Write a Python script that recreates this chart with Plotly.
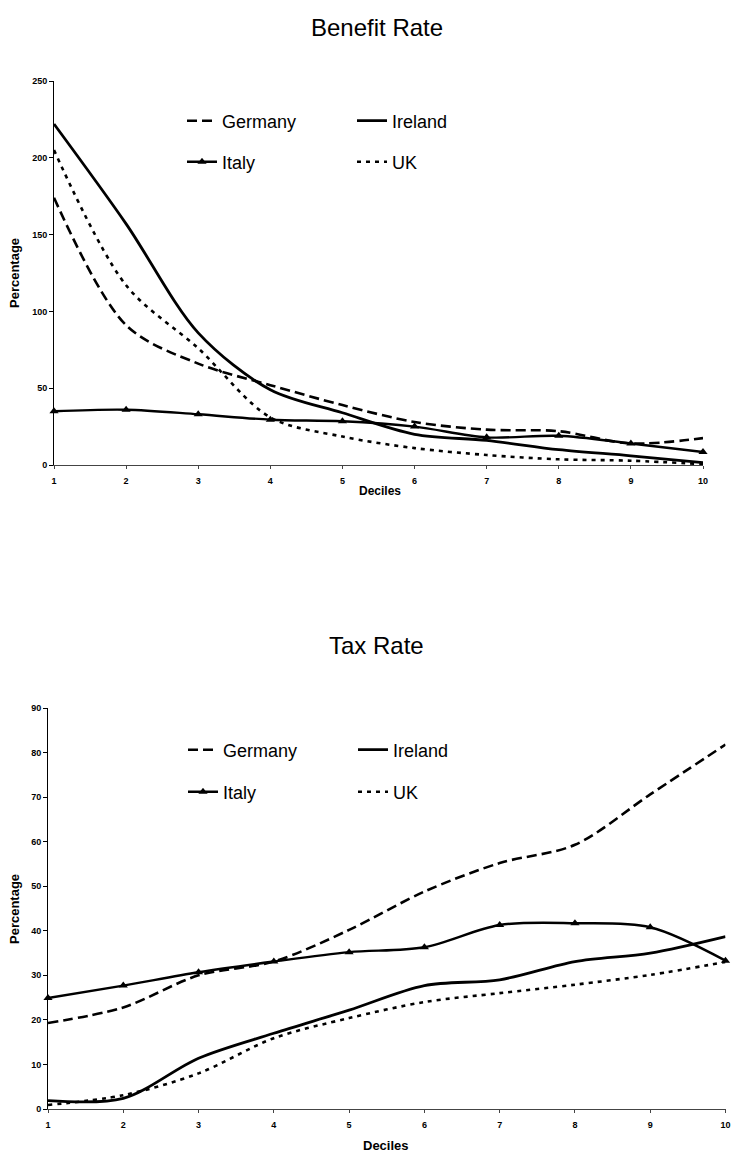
import plotly.graph_objects as go

# ---------------- data ----------------
deciles = [1, 2, 3, 4, 5, 6, 7, 8, 9, 10]
series_names = ["Germany", "Ireland", "Italy", "UK"]

benefit_germany = [174, 91, 66, 52, 39, 28, 23, 22, 14, 17.5]
benefit_ireland = [222, 157, 86, 49, 34, 20, 16, 10, 6, 1.5]
benefit_italy = [35, 36, 33, 29.5, 28.5, 25, 18, 19, 14, 8.5]
benefit_uk = [205, 117, 76, 31, 18.5, 11, 6.5, 3.7, 2.8, 0.5]

tax_germany = [19.3, 22.8, 30, 33.1, 40.2, 48.8, 55.2, 59.3, 70.6, 81.8]
tax_ireland = [1.9, 2.4, 11.4, 17, 22.2, 27.7, 29, 33.1, 35, 38.7]
tax_italy = [24.9, 27.7, 30.7, 33.1, 35.2, 36.3, 41.3, 41.7, 40.8, 33.3]
tax_uk = [0.9, 3.1, 8, 15.9, 20.4, 24, 26, 27.9, 30.1, 33]

benefit_ticks = [0, 50, 100, 150, 200, 250]
tax_ticks = [0, 10, 20, 30, 40, 50, 60, 70, 80, 90]

# ---------------- styles ----------------
W, H = 731, 1155
FONT = "Liberation Sans, Arial, sans-serif"
styles = {
    "Germany": dict(line=dict(color="black", width=2.6, dash="10px,5px"), mode="lines"),
    "Ireland": dict(line=dict(color="black", width=2.8), mode="lines"),
    "Italy": dict(line=dict(color="black", width=2.4), mode="lines+markers",
                  marker=dict(symbol="triangle-up", size=8, color="black")),
    "UK": dict(line=dict(color="black", width=2.6, dash="4px,5px"), mode="lines"),
}

fig = go.Figure()

def add_series(values, name, xaxis, yaxis, legend):
    st = styles[name]
    fig.add_trace(go.Scatter(
        x=deciles, y=values, name=name, xaxis=xaxis, yaxis=yaxis,
        legend=legend, line_shape="spline", line_smoothing=0.9,
        cliponaxis=False, hoverinfo="skip", **st))

top = [benefit_germany, benefit_ireland, benefit_italy, benefit_uk]
bot = [tax_germany, tax_ireland, tax_italy, tax_uk]
top_leg = ["legend", "legend", "legend2", "legend2"]
bot_leg = ["legend3", "legend3", "legend4", "legend4"]
for vals, name, lg in zip(top, series_names, top_leg):
    add_series(vals, name, "x", "y", lg)
for vals, name, lg in zip(bot, series_names, bot_leg):
    add_series(vals, name, "x2", "y2", lg)

def px_x(p):
    return p / W

def px_y(p):
    return 1 - p / H

tickfont = dict(family=FONT, size=9, color="black", weight="bold")

def xaxis_cfg(dom, anchor):
    return dict(domain=dom, anchor=anchor, range=[1, 10], tickvals=deciles,
                showline=True, linecolor="#444", linewidth=1, ticks="outside",
                ticklen=3, tickcolor="#444", showgrid=False, zeroline=False,
                tickfont=tickfont, fixedrange=True, ticklabeloverflow="allow",
                ticklabelstandoff=4)

def yaxis_cfg(dom, anchor, rng, ticks):
    return dict(domain=dom, anchor=anchor, range=rng, tickvals=ticks,
                showline=True, linecolor="black", linewidth=1, ticks="outside",
                ticklen=4, tickcolor="black", showgrid=False, zeroline=False,
                tickfont=tickfont, fixedrange=True, ticklabeloverflow="allow")

top_x = [px_x(54), px_x(703)]
top_y = [px_y(465), px_y(81)]
bot_x = [px_x(48), px_x(725.5)]
bot_y = [px_y(1109), px_y(708)]

legfont = dict(family=FONT, size=18, color="black")

def legend_cfg(x, y):
    return dict(orientation="h", x=x, y=y, xanchor="left", yanchor="middle",
                bgcolor="rgba(0,0,0,0)", font=legfont, entrywidth=125,
                entrywidthmode="pixels", itemclick=False, itemdoubleclick=False)

fig.update_layout(
    width=W, height=H,
    margin=dict(l=0, r=0, t=0, b=0, autoexpand=False),
    paper_bgcolor="white", plot_bgcolor="white",
    font=dict(family=FONT, color="black"),
    xaxis=xaxis_cfg(top_x, "y"),
    yaxis=yaxis_cfg(top_y, "x", [0, 250], benefit_ticks),
    xaxis2=xaxis_cfg(bot_x, "y2"),
    yaxis2=yaxis_cfg(bot_y, "x2", [0, 90], tax_ticks),
    legend=legend_cfg(px_x(182), px_y(121)),
    legend2=legend_cfg(px_x(182), px_y(162)),
    legend3=legend_cfg(px_x(183), px_y(750)),
    legend4=legend_cfg(px_x(183), px_y(792)),
    showlegend=True,
    hovermode=False,
)

annots = [
    dict(text="Benefit Rate", x=px_x(377), y=px_y(27), size=24, bold=False, angle=0),
    dict(text="Tax Rate", x=px_x(376), y=px_y(645), size=24, bold=False, angle=0),
    dict(text="Percentage", x=px_x(15), y=px_y(273), size=13, bold=True, angle=-90),
    dict(text="Percentage", x=px_x(14), y=px_y(909), size=13, bold=True, angle=-90),
    dict(text="Deciles", x=px_x(380), y=px_y(491), size=12, bold=True, angle=0),
    dict(text="Deciles", x=px_x(386), y=px_y(1145), size=13, bold=True, angle=0),
]
for a in annots:
    fig.add_annotation(
        text=a["text"], x=a["x"], y=a["y"], xref="paper", yref="paper",
        xanchor="center", yanchor="middle", showarrow=False, textangle=a["angle"],
        font=dict(family=FONT, size=a["size"], color="black",
                  weight="bold" if a["bold"] else "normal"))

fig.write_html("out.html", config={"displayModeBar": False},
               post_script="document.body.style.margin='0';document.body.style.overflow='hidden';")
